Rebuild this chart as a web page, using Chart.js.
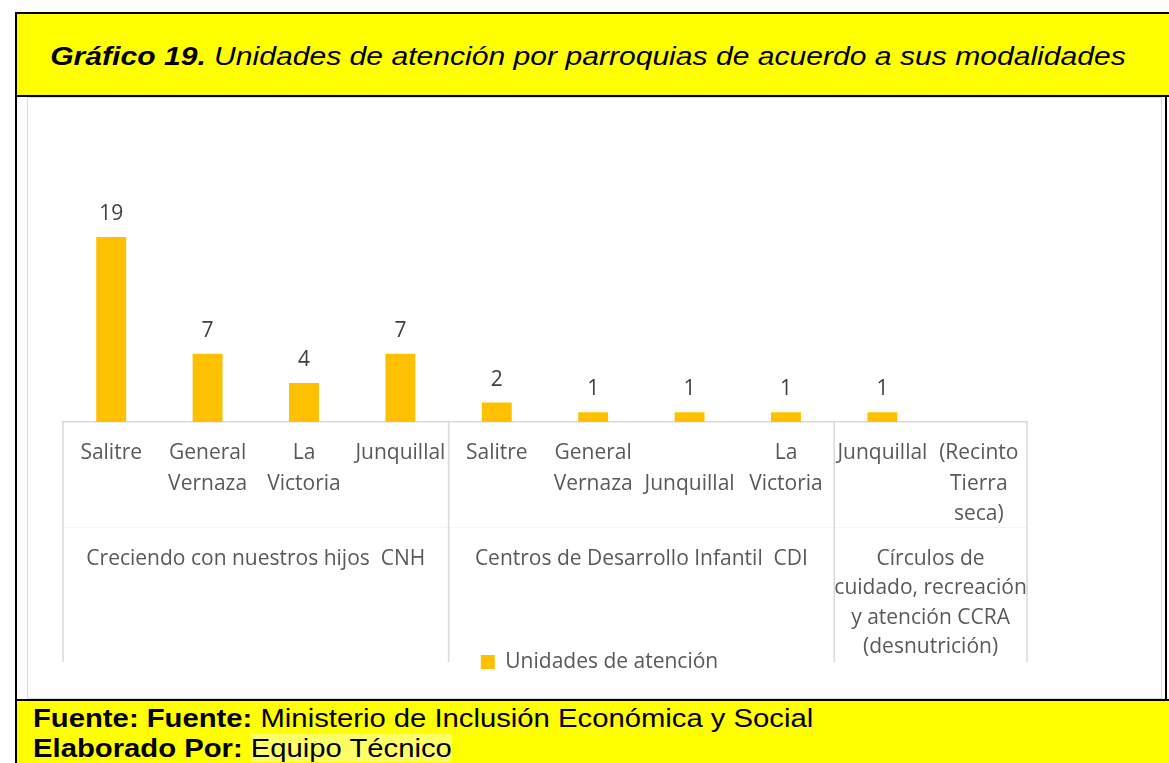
<!DOCTYPE html>
<html>
<head>
<meta charset="utf-8">
<script src="https://cdn.jsdelivr.net/npm/chart.js@4.4.1/dist/chart.umd.min.js"></script>
<style>
  html, body { margin: 0; padding: 0; background: #fff; }
  body { width: 1169px; height: 763px; position: relative; overflow: hidden; }
  #header {
    position: absolute; left: 15px; top: 12px; width: 1154px; height: 85px;
    box-sizing: border-box; background: #ffff00;
    border-top: 2px solid #000; border-bottom: 2px solid #000; border-left: 2px solid #000;
  }
  #header .title {
    position: absolute; left: -10px; right: 0; top: 27px; text-align: center;
    font-family: "Liberation Sans", Arial, sans-serif; font-size: 25.5px; font-style: italic;
    line-height: 30px; color: #000; transform: scaleX(1.18); transform-origin: 50% 50%;
    white-space: nowrap;
  }
  #chartBox {
    position: absolute; left: 27px; top: 97px; width: 1135px; height: 602px;
    box-sizing: border-box; border: 1px solid #d9d9d9; background: #fff;
  }
  #chartBox canvas { position: absolute; left: 0; top: 0; }
  #leftLine { position: absolute; left: 15px; top: 95px; width: 2px; height: 668px; background: #000; }
  #rightLine { position: absolute; left: 1165px; top: 97px; width: 2px; height: 603px; background: #000; }
  #footer {
    position: absolute; left: 15px; top: 699px; width: 1154px; height: 64px;
    box-sizing: border-box; background: #ffff00;
    border-top: 2px solid #000; border-left: 2px solid #000;
  }
  #footer .lines {
    position: absolute; left: 16px; top: 2px;
    font-family: "Liberation Sans", Arial, sans-serif; font-size: 25px; line-height: 30px; color: #000;
    transform: scaleX(1.17); transform-origin: 0 0; white-space: nowrap;
  }
  #footer .hl { background: #ffff66; }
</style>
</head>
<body>
<div id="header"><div class="title"><b>Gráfico 19.</b> Unidades de atención por parroquias de acuerdo a sus modalidades</div></div>
<div id="chartBox"><canvas id="Chart1" width="1133" height="600"></canvas></div>
<div id="leftLine"></div>
<div id="rightLine"></div>
<div id="footer"><div class="lines"><b>Fuente: Fuente:</b> Ministerio de Inclusión Económica y Social<br><b>Elaborado Por:</b> <span class="hl">Equipo Técnico</span></div></div>

<script>
// DATA
const categories = [
    ['Salitre'], ['General', 'Vernaza'], ['La', 'Victoria'], ['Junquillal'],
    ['Salitre'], ['General', 'Vernaza'], ['', 'Junquillal'], ['La', 'Victoria'],
    ['Junquillal'], ['(Recinto', 'Tierra', 'seca)']
];
const values = [19, 7, 4, 7, 2, 1, 1, 1, 1, null];
const groupNames = [
    ['Creciendo con nuestros hijos  CNH'],
    ['Centros de Desarrollo Infantil  CDI'],
    ['Círculos de', 'cuidado, recreación', 'y atención CCRA', '(desnutrición)']
];
const groupSizes = [4, 4, 2];
const seriesName = 'Unidades de atención';

const labelFont = { family: '"Open Sans", sans-serif', size: 21 };
const gray = '#595959';

// value labels above the bars
const valueLabels = {
    id: 'valueLabels',
    afterDatasetsDraw(chart) {
        const ctx = chart.ctx;
        const meta = chart.getDatasetMeta(0);
        ctx.save();
        ctx.font = `${labelFont.size}px ${labelFont.family}`;
        ctx.fillStyle = '#404040';
        ctx.textAlign = 'center';
        ctx.textBaseline = 'middle';
        meta.data.forEach((bar, i) => {
            if (values[i] === null) return;
            ctx.fillText(values[i], bar.x, bar.y - 23);
        });
        ctx.restore();
    }
};

// second level of the category axis: separators and group names
const groupAxis = {
    id: 'groupAxis',
    afterDraw(chart) {
        const ctx = chart.ctx;
        const x = chart.scales.x;
        const slot = x.width / categories.length;
        const top = x.top;
        const bottom = 564;
        ctx.save();
        // very faint line between the two label levels
        ctx.strokeStyle = '#f5f5f5';
        ctx.lineWidth = 1;
        ctx.beginPath();
        ctx.moveTo(x.left, 429.5);
        ctx.lineTo(x.right, 429.5);
        ctx.stroke();

        ctx.strokeStyle = '#d9d9d9';
        ctx.lineWidth = 1.5;
        let start = 0;
        const edges = [x.getPixelForValue(0) - slot / 2];
        groupSizes.forEach(n => {
            start += n;
            edges.push(x.getPixelForValue(start - 1) + slot / 2);
        });
        edges.forEach(px => {
            ctx.beginPath();
            ctx.moveTo(px, top);
            ctx.lineTo(px, bottom);
            ctx.stroke();
        });

        ctx.font = `${labelFont.size}px ${labelFont.family}`;
        ctx.fillStyle = gray;
        ctx.textAlign = 'center';
        ctx.textBaseline = 'middle';
        groupNames.forEach((lines, g) => {
            const cx = (edges[g] + edges[g + 1]) / 2;
            lines.forEach((line, k) => {
                ctx.fillText(line, cx, 461 + k * 29.5);
            });
        });
        ctx.restore();
    }
};

const ctx = document.getElementById('Chart1').getContext('2d');
const Chart1 = new Chart(ctx, {
    type: 'bar',
    data: {
        labels: categories,
        datasets: [{
            label: seriesName,
            data: values,
            backgroundColor: '#ffc000',
            borderWidth: 0,
            categoryPercentage: 1,
            barPercentage: 0.31
        }]
    },
    options: {
        responsive: false,
        animation: false,
        layout: {
            padding: { left: 10, right: 0, top: 80.5, bottom: 15.5 }
        },
        plugins: {
            legend: {
                position: 'bottom',
                labels: {
                    boxWidth: 14,
                    boxHeight: 14,
                    color: gray,
                    font: labelFont,
                    padding: 10
                }
            },
            tooltip: { enabled: false }
        },
        scales: {
            x: {
                grid: { display: false, drawTicks: false },
                border: { display: true, color: '#d9d9d9', width: 1.5 },
                ticks: {
                    color: gray,
                    font: { family: labelFont.family, size: 21, lineHeight: '30.5px' },
                    padding: 16,
                    autoSkip: false,
                    maxRotation: 0,
                    minRotation: 0
                },
                afterFit: (scale) => { scale.height = 219.5; }
            },
            y: {
                min: 0,
                max: 25,
                grid: { display: false },
                border: { display: false },
                ticks: { display: false },
                afterFit: (scale) => { scale.width = 25; }
            },
            y2: {
                position: 'right',
                min: 0,
                max: 25,
                grid: { display: false },
                border: { display: false },
                ticks: { display: false },
                afterFit: (scale) => { scale.width = 134; }
            }
        }
    },
    plugins: [valueLabels, groupAxis]
});
</script>
</body>
</html>
